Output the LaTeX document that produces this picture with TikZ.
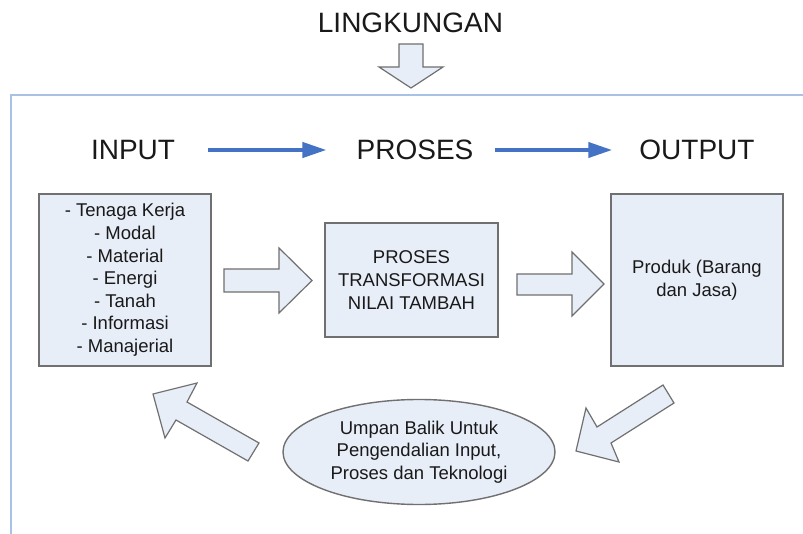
\documentclass[tikz,border=0pt]{standalone}
\usepackage{fontspec}
\setmainfont{Liberation Sans}
\usetikzlibrary{arrows.meta,shapes.geometric}
\definecolor{boxfill}{RGB}{232,238,248}
\definecolor{boxline}{RGB}{112,112,112}
\definecolor{frameblue}{RGB}{168,194,230}
\definecolor{flowblue}{RGB}{68,114,196}
\tikzset{
  heading/.style={inner sep=0pt, font=\fontsize{28}{32}\selectfont, text=black!90},
  itembox/.style={draw=boxline, line width=1.4pt, fill=boxfill, inner sep=0pt,
    align=center, font=\fontsize{18.5}{22.6}\selectfont, text=black!90},
  blockarrow/.style={draw=boxline, line width=1.2pt, fill=boxfill, line join=miter},
  flowarrow/.style={draw=flowblue, line width=4pt, -{Triangle[length=24pt,width=15pt]}},
}
\begin{document}
\begin{tikzpicture}[x=1pt, y=-1pt]
\useasboundingbox (0,0) rectangle (803,534);
\fill[white] (0,0) rectangle (803,534);

% surrounding environment frame
\draw[frameblue, line width=2pt] (11,534) -- (11,95) -- (803,95);

% environment label and its inflow arrow
\node[heading] (env) at (410.5,22.5) {LINGKUNGAN};
\draw[blockarrow] (399,44) -- (423,44) -- (423,67) -- (443,67) -- (411,88)
  -- (379,67) -- (399,67) -- cycle;

% stage headings
\node[heading] (hin)  at (133,150) {INPUT};
\node[heading] (hpro) at (415,150) {PROSES};
\node[heading] (hout) at (697,150) {OUTPUT};
\draw[flowarrow, shorten <=33pt, shorten >=30pt] (hin.east) -- (hpro.west);
\draw[flowarrow, shorten <=21pt, shorten >=27pt] (hpro.east) -- (hout.west);

% stage boxes
\node[itembox, minimum width=172pt, minimum height=172pt] (inbox) at (125,280)
  {- Tenaga Kerja\\- Modal\\- Material\\- Energi\\- Tanah\\- Informasi\\- Manajerial};
\node[itembox, minimum width=173pt, minimum height=114pt] (probox) at (411.5,280)
  {PROSES\\TRANSFORMASI\\NILAI TAMBAH};
\node[itembox, minimum width=172pt, minimum height=172pt] (outbox) at (697,280)
  {Produk (Barang\\dan Jasa)};

% block arrows between the boxes
\draw[blockarrow] (224,269) -- (279,269) -- (279,248) -- (312,280.5) -- (279,313)
  -- (279,292) -- (224,292) -- cycle;
\draw[blockarrow] (517,274) -- (572,274) -- (572,252) -- (604,284) -- (572,316)
  -- (572,295) -- (517,295) -- cycle;

% feedback loop
\node[itembox, ellipse, minimum width=272pt, minimum height=105pt] (fb) at (419,452)
  {Umpan Balik Untuk\\Pengendalian Input,\\Proses dan Teknologi};
\draw[blockarrow] (663,385) -- (674,403) -- (611,443) -- (619,462) -- (576,451)
  -- (586,408) -- (597,427) -- cycle;
\draw[blockarrow] (259,443) -- (248,461) -- (176,420) -- (165,438) -- (153,394)
  -- (197,383) -- (187,402) -- cycle;
\end{tikzpicture}
\end{document}
